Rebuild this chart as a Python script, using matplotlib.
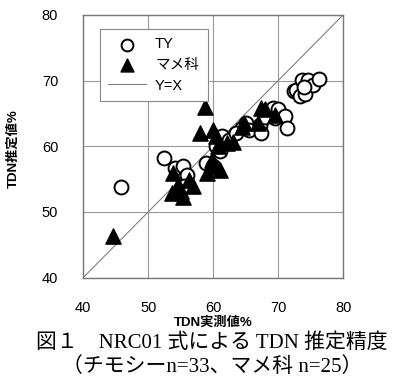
'''
TDN estimation accuracy of the NRC01 equation.
'''

import matplotlib
matplotlib.use('Agg')
import matplotlib.pyplot as plt

# TY (timothy), n=33
ty_x = [45.8, 52.4, 54.1, 55.3, 55.9, 55.5, 58.9, 60.5, 61.0, 61.3, 62.5,
        64.4, 65.1, 65.5, 67.2, 67.4, 69.2, 69.5, 70.0, 71.0, 71.3, 68.0,
        72.5, 72.8, 73.3, 73.6, 74.1, 74.6, 75.4, 76.2, 74.0, 63.5, 60.0]
ty_y = [53.8, 58.2, 56.7, 57.0, 55.6, 54.0, 57.4, 60.0, 59.2, 61.5, 61.0,
        62.8, 63.5, 62.5, 63.3, 62.0, 65.8, 64.3, 65.7, 64.6, 62.8, 64.5,
        68.4, 68.6, 67.6, 70.1, 67.9, 70.1, 69.3, 70.2, 69.0, 62.0, 57.0]

# legumes, n=25
legume_x = [44.6, 53.6, 53.8, 54.6, 55.4, 56.3, 56.9, 55.0, 58.8, 58.0,
            59.9, 60.5, 60.7, 59.0, 59.8, 60.2, 61.0, 62.1, 63.1, 64.4,
            64.8, 66.9, 67.4, 68.0, 69.5]
legume_y = [46.3, 52.9, 55.9, 54.1, 52.3, 54.8, 53.9, 53.2, 66.0, 62.0,
            62.5, 61.5, 60.0, 55.9, 57.9, 57.0, 56.4, 60.5, 60.7, 63.0,
            63.6, 63.5, 65.8, 65.7, 64.8]

ticks = [40, 50, 60, 70, 80]

SANS = ['Liberation Sans', 'Noto Sans CJK JP']
SERIF = ['Liberation Serif', 'Noto Sans CJK JP']

fig = plt.figure(figsize=(4.0, 3.91), dpi=100)
ax = fig.add_axes([0.208, 0.290, 0.650, 0.672])

ax.plot(ticks, ticks, color='#808080', lw=0.8, label='Y=X', zorder=2)
ax.scatter(ty_x, ty_y, s=100, facecolor='white', edgecolor='black',
           linewidth=1.4, label='TY', zorder=3)
ax.scatter(legume_x, legume_y, s=120, marker='^', color='black',
           label='マメ科', zorder=4)

ax.set_xlim(40, 80)
ax.set_ylim(40, 80)
ax.set_xticks(ticks)
ax.set_yticks(ticks)
ax.grid(color='#9a9a9a', lw=0.8)
ax.set_axisbelow(True)
ax.tick_params(length=0, labelsize=10.5)
ax.tick_params(axis='x', pad=17)
ax.tick_params(axis='y', pad=18)
for lab in ax.get_xticklabels() + ax.get_yticklabels():
    lab.set_family(SANS)
for sp in ax.spines.values():
    sp.set_color('#777777')
    sp.set_linewidth(1.0)

handles, labels = ax.get_legend_handles_labels()
order = [1, 2, 0]
leg = ax.legend([handles[i] for i in order], [labels[i] for i in order],
                loc='upper left', bbox_to_anchor=(0.035, 0.975),
                prop={'family': SANS, 'size': 10.5}, fancybox=False,
                framealpha=1, edgecolor='#888888', handlelength=2.6,
                handletextpad=0.6, borderpad=0.6, labelspacing=0.45,
                markerscale=0.85)
leg.get_frame().set_linewidth(0.8)

fig.text(0.533, 0.176, 'TDN実測値%', ha='center', va='center',
         family=SANS, fontsize=9.5, fontweight='bold')
fig.text(0.035, 0.62, 'TDN推定値%', ha='center', va='center', rotation=90,
         family=SANS, fontsize=9.5, fontweight='bold')

fig.text(0.53, 0.122, '図１　NRC01 式による TDN 推定精度', ha='center',
         va='center', family=SERIF, fontsize=15)
fig.text(0.53, 0.060, '（チモシーn=33、マメ科 n=25）', ha='center',
         va='center', family=SERIF, fontsize=15)

fig.savefig('out.png', dpi=100)
